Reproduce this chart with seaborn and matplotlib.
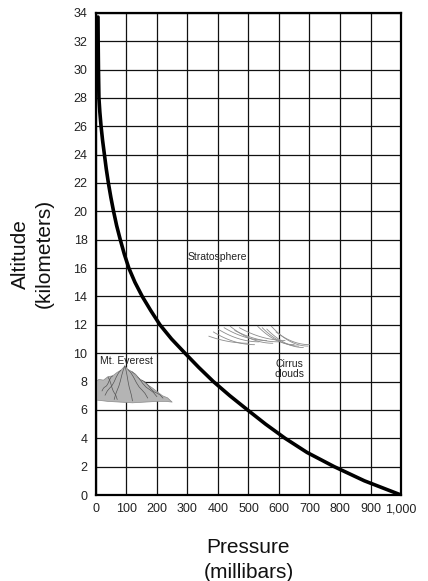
import numpy as np
import pandas as pd
import matplotlib
matplotlib.use("Agg")
import matplotlib.pyplot as plt
import seaborn as sns

# ---- data ----
pressure_mb = [7, 7.5, 8.5, 10, 13, 17, 22, 28, 34, 41, 49, 58, 68, 80, 93, 108, 128, 152,
               180, 210, 248, 292, 337, 385, 439, 497, 556, 620, 692, 781, 880, 1000]
altitude_km = [33.7, 32, 30, 28, 27, 26, 25, 24, 23, 22, 21, 20, 19, 18, 17, 16, 15, 14,
               13, 12, 11, 10, 9, 8, 7, 6, 5, 4, 3, 2, 1, 0]

x_ticks = [0, 100, 200, 300, 400, 500, 600, 700, 800, 900, 1000]
x_tick_labels = ["0", "100", "200", "300", "400", "500", "600", "700", "800", "900", "1,000"]
y_ticks = list(range(0, 35, 2))

# Mt. Everest illustration outline (pressure, altitude)
mountain_x = [0, 10, 25, 40, 55, 70, 82, 95, 105, 118, 132, 150, 168, 185, 200, 218, 235, 250,
              230, 200, 160, 120, 80, 40, 0]
mountain_y = [8.0, 8.15, 8.1, 8.35, 8.4, 8.65, 8.8, 9.1, 8.85, 8.7, 8.35, 8.1, 7.8, 7.55, 7.3, 7.0, 6.85, 6.55,
              6.6, 6.6, 6.55, 6.5, 6.55, 6.6, 6.7]
ridge_x0 = [95, 95, 82, 105, 118, 55, 150, 40]
ridge_y0 = [9.1, 9.1, 8.8, 8.85, 8.7, 8.4, 8.1, 8.3]
ridge_x1 = [60, 120, 30, 170, 200, 20, 220, 70]
ridge_y1 = [6.7, 6.6, 7.0, 6.8, 6.9, 7.3, 6.8, 6.7]

# Cirrus cloud strokes: start and end points
cloud_x0 = [370, 385, 400, 420, 440, 455, 470, 530, 545, 560, 575, 590]
cloud_y0 = [11.2, 11.5, 11.7, 11.8, 11.9, 11.6, 11.8, 11.9, 11.8, 11.7, 11.9, 11.5]
cloud_x1 = [500, 520, 535, 560, 580, 600, 620, 650, 665, 680, 695, 700]
cloud_y1 = [10.7, 10.6, 10.8, 10.9, 10.7, 10.8, 10.9, 10.6, 10.5, 10.4, 10.5, 10.6]

sns.set_theme(style="white")
plt.rcParams["font.family"] = ["Liberation Sans", "DejaVu Sans"]

fig = plt.figure(figsize=(4.28, 5.81), dpi=100)
ax = fig.add_axes([0.224, 0.148, 0.713, 0.830])

df = pd.DataFrame({"Pressure": pressure_mb, "Altitude": altitude_km})

# mountain
ax.fill(mountain_x, mountain_y, color="#b4b4b4", zorder=2, lw=0)
ax.plot(mountain_x, mountain_y, color="#8a8a8a", lw=0.5, zorder=2)
for a, b, c, d in zip(ridge_x0, ridge_y0, ridge_x1, ridge_y1):
    t = np.linspace(0, 1, 8)
    xs = a + (c - a) * t
    ys = b + (d - b) * t + 0.08 * np.sin(t * 9)
    ax.plot(xs, ys, color="#555555", lw=0.5, zorder=2)

# cirrus clouds
for a, b, c, d in zip(cloud_x0, cloud_y0, cloud_x1, cloud_y1):
    t = np.linspace(0, 1, 30)
    xs = a + (c - a) * t
    ys = b + (d - b) * (1 - (1 - t) ** 2)
    ax.plot(xs, ys, color="#8c8c8c", lw=0.6, zorder=2)

sns.lineplot(data=df, x="Pressure", y="Altitude", sort=False, color="black",
             linewidth=2.6, ax=ax, zorder=4, estimator=None)

ax.set_xlim(0, 1000)
ax.set_ylim(0, 34)
ax.set_xticks(x_ticks)
ax.set_xticklabels(x_tick_labels, fontsize=9, color="#222222")
ax.set_yticks(y_ticks)
ax.set_yticklabels([str(v) for v in y_ticks], fontsize=9, color="#222222")
ax.grid(True, color="#111111", linewidth=0.9)
ax.set_axisbelow(True)
for s in ax.spines.values():
    s.set_color("black")
    s.set_linewidth(1.6)
ax.tick_params(axis="both", length=3, width=0.8, color="black", pad=3)

ax.set_xlabel("Pressure\n(millibars)", fontsize=15, color="#111111", labelpad=16, linespacing=1.4)
ax.set_ylabel("Altitude\n(kilometers)", fontsize=15, color="#111111", labelpad=14, linespacing=1.35)

ax.text(398, 16.8, "Stratosphere", fontsize=7.5, ha="center", va="center", color="#222222")
ax.text(15, 9.45, "Mt. Everest", fontsize=7.5, ha="left", va="center", color="#222222", zorder=5)
ax.text(635, 8.9, "Cirrus\nclouds", fontsize=7.5, ha="center", va="center", color="#222222",
        linespacing=0.95)

fig.savefig("out.png", dpi=100)
